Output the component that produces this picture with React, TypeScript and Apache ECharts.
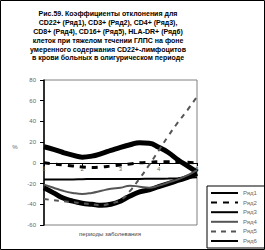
import React, { useEffect, useRef } from "react";
import * as echarts from "echarts";

const periods = [1, 1.25, 1.5, 1.75, 2, 2.25, 2.5, 2.75, 3, 3.25, 3.5, 3.75, 4, 4.25, 4.5, 4.75, 5];
const xTicks = ["1", "2", "3", "4", "5"];
const seriesNames = ["Ряд1", "Ряд2", "Ряд3", "Ряд4", "Ряд5", "Ряд6"];
const row1 = [15.5, 13, 10, 7.5, 5.5, 6.5, 9, 12, 15, 17.5, 19.5, 19, 15, 10, 3, -3, -9];
const row2 = [0, -1, -2, -3, -4, -4.5, -4, -3, -2, -1, 0, 0.5, 1, 1, 1, 0.5, 0];
const row3 = [-16, -16, -16, -16, -15.8, -15.6, -15.5, -15.5, -15.5, -15.5, -15.5, -15.4, -15.3, -15.2, -15, -14.5, -14];
const row4 = [-21, -24, -27, -29, -30, -29, -27, -25, -24, -22, -23, -24, -22, -19, -16, -12, -7];
const row5 = [-35, -36, -37, -38, -39, -40, -41, -39, -36, -27, -15, -2, 12, 26, 39, 51, 64];
const row6 = [-24, -29, -34, -37, -39, -40, -41, -40, -37, -32, -28, -26, -23, -20, -17, -14, -10];
const yTicks = [-60, -40, -20, 0, 20, 40, 60, 80];

const titleLines = [
  "Рис.59. Коэффициенты отклонения для",
  "CD22+ (Ряд1), CD3+ (Ряд2), CD4+ (Ряд3),",
  "CD8+ (Ряд4), CD16+ (Ряд5), HLA-DR+ (Ряд6)",
  "клеток при тяжелом течении ГЛПС на фоне",
  "умеренного содержания CD22+-лимфоцитов",
  "в крови больных в олигурическом периоде",
];
const yAxisName = "%";
const xAxisName = "периоды заболевания";

export default function App() {
  const ref = useRef<HTMLDivElement>(null);
  useEffect(() => {
    if (!ref.current) return;
    const chart = echarts.init(ref.current, null, { renderer: "svg" });
    const rows = [row1, row2, row3, row4, row5, row6];
    const styles: any[] = [
      { color: "#000", width: 5, type: "solid" },
      { color: "#000", width: 3, type: [6, 6] },
      { color: "#000", width: 2, type: "solid" },
      { color: "#555", width: 2, type: "solid" },
      { color: "#555", width: 2, type: [5, 5] },
      { color: "#000", width: 5, type: "solid" },
    ];
    chart.setOption({
      animation: false,
      textStyle: { fontFamily: "Arial, Liberation Sans, sans-serif" },
      grid: {
        left: 44,
        right: 68,
        top: 80,
        bottom: 25,
        show: true,
        borderColor: "#808080",
        borderWidth: 1,
        backgroundColor: "transparent",
      },
      xAxis: {
        type: "value",
        min: 1,
        max: 5,
        interval: 1,
        offset: -62,
        axisLine: { onZero: false, lineStyle: { color: "#000", width: 1 } },
        axisTick: { show: true, length: 3, lineStyle: { color: "#000" } },
        axisLabel: {
          fontSize: 6,
          color: "#666",
          margin: 3,
          formatter: (v: number) => xTicks[Math.round(v) - 1] ?? "",
        },
        splitLine: { show: false },
      },
      yAxis: {
        type: "value",
        min: yTicks[0],
        max: yTicks[yTicks.length - 1],
        interval: 20,
        axisLine: { show: true, lineStyle: { color: "#000", width: 1.5 } },
        axisTick: { show: true, length: 4, lineStyle: { color: "#000" } },
        axisLabel: { fontSize: 6, color: "#666", margin: 8 },
        splitLine: { show: false },
      },
      legend: {
        orient: "vertical",
        left: 207,
        top: 186,
        itemWidth: 27,
        itemHeight: 6,
        itemGap: 3.6,
        padding: [4, 8, 4, 3],
        borderColor: "#000",
        borderWidth: 1,
        lineStyle: { width: 2 },
        itemStyle: { opacity: 0, borderWidth: 0 },
        textStyle: { fontSize: 6, color: "#666" },
        data: seriesNames,
      },
      series: rows.map((r, i) => ({
        name: seriesNames[i],
        type: "line",
        smooth: true,
        symbol: "none",
        data: periods.map((p, j) => [p, r[j]]),
        lineStyle: styles[i],
        itemStyle: { color: styles[i].color },
        z: i === 0 || i === 5 ? 2 : 3,
      })),
      graphic: [
        {
          type: "rect",
          shape: { x: 0.5, y: 0.5, width: 264, height: 249 },
          style: { fill: "none", stroke: "#000", lineWidth: 1 },
          silent: true,
        },
        {
          type: "text",
          x: 108,
          y: 9,
          style: {
            text: titleLines.join("\n"),
            fontSize: 7,
            fontWeight: "bold",
            lineHeight: 8.9,
            fill: "#000",
            align: "center",
            verticalAlign: "top",
            fontFamily: "Arial, Liberation Sans, sans-serif",
          },
        },
        {
          type: "text",
          x: 15,
          y: 147,
          style: {
            text: yAxisName,
            fontSize: 6,
            fill: "#666",
            align: "center",
            verticalAlign: "middle",
          },
        },
        {
          type: "text",
          x: 110,
          y: 234,
          style: {
            text: xAxisName,
            fontSize: 6,
            fill: "#444",
            align: "center",
            verticalAlign: "middle",
          },
        },
      ],
    });
    return () => chart.dispose();
  }, []);
  return (
    <div
      ref={ref}
      style={{ position: "absolute", left: 0, top: 0, width: 265, height: 250 }}
    />
  );
}
